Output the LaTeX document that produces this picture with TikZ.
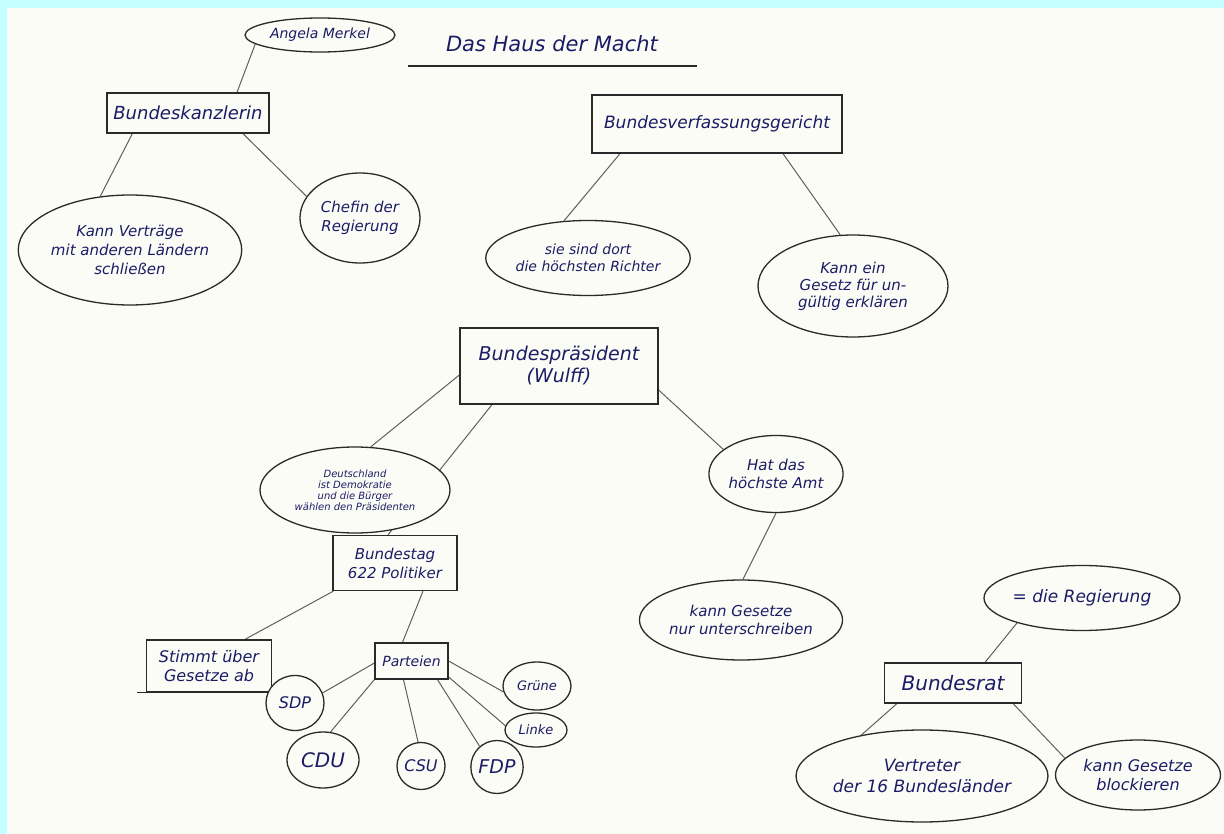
\documentclass[tikz,border=0pt]{standalone}
\usepackage{fontspec}
\setmainfont{DejaVu Sans}
\usetikzlibrary{shapes.geometric}
\definecolor{paper}{HTML}{FCFCF6}
\definecolor{frame}{HTML}{C6FFFF}
\definecolor{ink}{HTML}{1C1C66}
\definecolor{pen}{HTML}{2A2A2A}
\pgfdeclarelayer{bg}\pgfsetlayers{bg,main}
\begin{document}
\begin{tikzpicture}[x=1pt,y=-1pt,
  boxnode/.style={draw=pen, line width=1.3pt, rectangle, fill=paper, text=ink,
    font=\itshape\fontsize{18}{21}\selectfont, align=center, inner sep=0pt},
  blob/.style={draw=pen, line width=1.3pt, ellipse, fill=paper, text=ink,
    font=\itshape\fontsize{14}{16}\selectfont, align=center, inner sep=0pt},
  party/.style={blob, font=\itshape\fontsize{16}{18}\selectfont},
  link/.style={draw=pen!75, line width=1pt}]
\useasboundingbox (0,0) rectangle (1224,834);

% title
\node[text=ink, font=\itshape\fontsize{21}{24}\selectfont] (title) at (552,44) {Das Haus der Macht};
\draw[pen, line width=1.3pt] (408,66) -- (697,66);

% boxes
\node[boxnode, minimum width=162, minimum height=40] (bk) at (188,113) {Bundeskanzlerin};
\node[boxnode, minimum width=250, minimum height=58, font=\itshape\fontsize{17}{20}\selectfont] (bvg) at (717,124) {Bundesverfassungsgericht};
\node[boxnode, minimum width=198, minimum height=76, font=\itshape\fontsize{19}{22}\selectfont] (bp) at (559,366) {Bundespräsident\\(Wulff)};
\node[boxnode, minimum width=124, minimum height=55, font=\itshape\fontsize{15}{19}\selectfont] (bt) at (395,563) {Bundestag\\622 Politiker};
\node[boxnode, minimum width=125, minimum height=52, font=\itshape\fontsize{16}{19}\selectfont] (st) at (209,666) {Stimmt über\\Gesetze ab};
\draw[pen, line width=1.3pt] ([xshift=-9pt]st.south west) -- (st.south west);
\node[boxnode, minimum width=73, minimum height=36, font=\itshape\fontsize{14}{16}\selectfont] (pa) at (411.5,661) {Parteien};
\node[boxnode, minimum width=137, minimum height=40, font=\itshape\fontsize{20}{22}\selectfont] (br) at (953,683) {Bundesrat};

% blobs
\node[blob, minimum width=150, minimum height=34, font=\itshape\fontsize{14}{16}\selectfont] (am) at (320,35) {Angela Merkel};
\node[blob, minimum width=210, minimum height=110, font=\itshape\fontsize{15}{19}\selectfont] (kv) at (130,250) {Kann Verträge\\mit anderen Ländern\\schließen};
\node[blob, minimum width=120, minimum height=90, font=\itshape\fontsize{15}{19}\selectfont] (ch) at (360,218) {Chefin der\\Regierung};
\node[blob, minimum width=192, minimum height=75, font=\itshape\fontsize{14}{17}\selectfont] (sd) at (588,258) {sie sind dort\\die höchsten Richter};
\node[blob, minimum width=190, minimum height=102, font=\itshape\fontsize{15}{17}\selectfont] (kg) at (853,286) {Kann ein\\Gesetz für un-\\gültig erklären};
\node[blob, minimum width=190, minimum height=86, font=\itshape\fontsize{10}{11}\selectfont] (de) at (355,490) {Deutschland\\ist Demokratie\\und die Bürger\\wählen den Präsidenten};
\node[blob, minimum width=117, minimum height=77, font=\itshape\fontsize{15}{18}\selectfont] (hd) at (776,474) {Hat das\\höchste Amt};
\node[blob, minimum width=187, minimum height=80, font=\itshape\fontsize{15}{18}\selectfont] (ku) at (741,620) {kann Gesetze\\nur unterschreiben};
\node[blob, minimum width=195, minimum height=65, font=\itshape\fontsize{17}{19}\selectfont] (re) at (1082,598) {= die Regierung};
\node[blob, minimum width=235, minimum height=92, font=\itshape\fontsize{17}{21}\selectfont] (ve) at (922,776) {Vertreter\\der 16 Bundesländer};
\node[blob, minimum width=165, minimum height=70, font=\itshape\fontsize{16}{19}\selectfont] (bl) at (1138,775) {kann Gesetze\\blockieren};

% parties
\node[party, minimum width=58, minimum height=55] (sdp) at (295,703) {SDP};
\node[party, minimum width=72, minimum height=56, font=\itshape\fontsize{20}{22}\selectfont] (cdu) at (323,760) {CDU};
\node[party, minimum width=48, minimum height=47] (csu) at (421,766) {CSU};
\node[party, minimum width=49, minimum height=53, font=\itshape\fontsize{19}{21}\selectfont] (fdp) at (497,767) {FDP};
\node[party, minimum width=68, minimum height=48, font=\itshape\fontsize{13}{15}\selectfont] (gr) at (537,686) {Grüne};
\node[party, minimum width=62, minimum height=34, font=\itshape\fontsize{13}{15}\selectfont] (li) at (536,730) {Linke};

\begin{pgfonlayer}{bg}
\fill[frame] (0,0) rectangle (1224,834);
\fill[paper] (7,8) rectangle (1224,834);
\draw[link] (am.188) -- ([xshift=49pt]bk.north);
\draw[link] ([xshift=26pt]bk.south west) -- (kv.119);
\draw[link] ([xshift=55pt]bk.south) -- (ch.158);
\draw[link] ([xshift=-97pt]bvg.south) -- (sd.123);
\draw[link] ([xshift=66pt]bvg.south) -- (kg.104);
\draw[link] ([yshift=-9pt]bp.west) -- (de.70);
\draw[link] ([xshift=-67pt]bp.south) -- ([xshift=-7pt]bt.north);
\draw[link] ([yshift=-24pt]bp.east) -- (hd.155);
\draw[link] (hd.south) -- ([xshift=2pt]ku.north);
\draw[link] ([xshift=1pt]bt.south west) -- ([xshift=36pt]st.north);
\draw[link] ([xshift=28pt]bt.south) -- ([xshift=-9pt]pa.north);
\draw[link] ([yshift=-2pt]pa.west) -- (sdp.20);
\draw[link] (pa.south west) -- (cdu.75);
\draw[link] ([xshift=-8pt]pa.south) -- (csu.97);
\draw[link] ([xshift=26pt]pa.south) -- (fdp.130);
\draw[link] ([yshift=-16pt]pa.east) -- (li.172);
\draw[link] (pa.east) -- (gr.190);
\draw[link] (re.201) -- ([xshift=32pt]br.north);
\draw[link] ([xshift=13pt]br.south west) -- (ve.146);
\draw[link] ([xshift=-9pt]br.south east) -- (bl.167);
\end{pgfonlayer}
\end{tikzpicture}
\end{document}
